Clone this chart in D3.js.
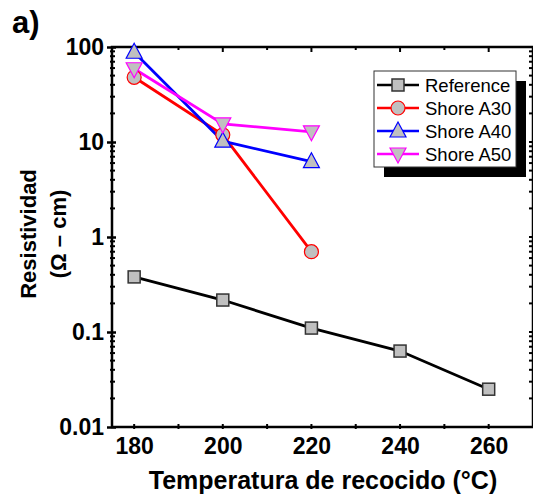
<!DOCTYPE html>
<html><head><meta charset="utf-8">
<script src="https://cdn.jsdelivr.net/npm/d3@7"></script>
<style>body{margin:0;background:#fff;}svg{display:block;}</style>
</head><body>
<svg id="c" width="533" height="497"></svg>
<script>
const temps = [180, 200, 220, 240, 260];
const refVals = [0.38, 0.217, 0.11, 0.063, 0.025];
const a30Vals = [48, 11.9, 0.70];
const a40Vals = [88, 10.2, 6.2];
const a50Vals = [59, 15.5, 12.8];
const xTicks = [180, 200, 220, 240, 260];
const yTicks = [100, 10, 1, 0.1, 0.01];
const yTickLabels = ["100", "10", "1", "0.1", "0.01"];
const seriesNames = ["Reference", "Shore A30", "Shore A40", "Shore A50"];
const seriesColors = ["#000000", "#ff0000", "#0000ff", "#ff00ff"];
const seriesMarkers = ["square", "circle", "triangle", "triangleDown"];

const svg = d3.select("#c");
const L = 112, R = 533, T = 47, B = 427;
const x = d3.scaleLinear().domain([175, 270]).range([L, R]);
const y = d3.scaleLog().domain([0.01, 100]).range([B, T]);
const font = "'Liberation Sans', Arial, sans-serif";

// minor y ticks
const minor = [];
[0.01, 0.1, 1, 10].forEach(d => { for (let k = 2; k <= 9; k++) minor.push(d * k); });

const g = svg.append("g");
// frame
g.append("rect").attr("x", L).attr("y", T).attr("width", R - L).attr("height", B - T)
  .attr("fill", "none").attr("stroke", "#000").attr("stroke-width", 2.5);

// axes
const yAxis = d3.axisLeft(y).tickValues(yTicks).tickFormat((d, i) => yTickLabels[i]).tickSize(5).tickPadding(3);
const gy = g.append("g").attr("transform", `translate(${L},0)`).call(yAxis);
gy.select(".domain").remove();
gy.selectAll(".tick line").attr("stroke-width", 2.5).attr("x2", -5).attr("x1", 4);
gy.selectAll("text").attr("font-family", font).attr("font-weight", "bold").attr("font-size", 23).attr("fill", "#000");
g.append("g").selectAll("line").data(minor).join("line")
  .attr("x1", L - 2).attr("x2", L + 3).attr("y1", d => y(d)).attr("y2", d => y(d))
  .attr("stroke", "#000").attr("stroke-width", 2);
// right side minor ticks
g.append("g").selectAll("line").data(minor.concat(yTicks)).join("line")
  .attr("x1", R - 4).attr("x2", R).attr("y1", d => y(d)).attr("y2", d => y(d))
  .attr("stroke", "#000").attr("stroke-width", 2);

const xAxis = d3.axisBottom(x).tickValues(xTicks).tickSize(0).tickPadding(11);
const gx = g.append("g").attr("transform", `translate(0,${B})`).call(xAxis);
gx.select(".domain").remove();
gx.selectAll("text").attr("font-family", font).attr("font-weight", "bold").attr("font-size", 23).attr("fill", "#000");
const xMinor = d3.range(180, 270, 10);
g.append("g").selectAll("line").data(xMinor).join("line")
  .attr("x1", d => x(d)).attr("x2", d => x(d)).attr("y1", B - 3).attr("y2", B + 2)
  .attr("stroke", "#000").attr("stroke-width", 2);
g.append("g").selectAll("line").data(xMinor).join("line")
  .attr("x1", d => x(d)).attr("x2", d => x(d)).attr("y1", T).attr("y2", d => T + ((d % 20 === 0) ? 5 : 3))
  .attr("stroke", "#000").attr("stroke-width", 2);

// titles
svg.append("text").attr("x", 323).attr("y", 489).attr("text-anchor", "middle")
  .attr("font-family", font).attr("font-weight", "bold").attr("font-size", 25).text("Temperatura de recocido (°C)");
svg.append("text").attr("transform", "translate(36,234) rotate(-90)").attr("text-anchor", "middle")
  .attr("font-family", font).attr("font-weight", "bold").attr("font-size", 22).text("Resistividad");
svg.append("text").attr("transform", "translate(66,234) rotate(-90)").attr("text-anchor", "middle")
  .attr("font-family", font).attr("font-weight", "bold").attr("font-size", 22).text("(Ω – cm)");
svg.append("text").attr("x", 12).attr("y", 33)
  .attr("font-family", font).attr("font-weight", "bold").attr("font-size", 31).text("a)");

// markers
function drawMarker(sel, type, color) {
  if (type === "square") {
    sel.append("rect").attr("x", -6).attr("y", -6).attr("width", 12).attr("height", 12)
      .attr("fill", "#c0c0c0").attr("stroke", "#333").attr("stroke-width", 1.5);
  } else if (type === "circle") {
    sel.append("circle").attr("r", 7).attr("fill", "#c0c0c0").attr("stroke", color).attr("stroke-width", 1.2);
  } else if (type === "triangle") {
    sel.append("path").attr("d", "M0,-9L8,6L-8,6Z").attr("fill", "#c0c0c0").attr("stroke", color).attr("stroke-width", 1.2);
  } else {
    sel.append("path").attr("d", "M0,9L8,-6L-8,-6Z").attr("fill", "#c0c0c0").attr("stroke", color).attr("stroke-width", 1.2);
  }
}

const allVals = [refVals, a30Vals, a40Vals, a50Vals];
const line = d3.line().x(d => x(d[0])).y(d => y(d[1]));
const plot = svg.append("g");
allVals.forEach((vals, i) => {
  const pts = vals.map((v, j) => [temps[j], v]);
  plot.append("path").attr("d", line(pts)).attr("fill", "none")
    .attr("stroke", seriesColors[i]).attr("stroke-width", 2.8);
});
allVals.forEach((vals, i) => {
  vals.forEach((v, j) => {
    const m = plot.append("g").attr("transform", `translate(${x(temps[j])},${y(v)})`);
    drawMarker(m, seriesMarkers[i], seriesColors[i]);
  });
});

// legend
const lg = svg.append("g");
lg.append("rect").attr("x", 384).attr("y", 81).attr("width", 142).attr("height", 96).attr("fill", "#000");
lg.append("rect").attr("x", 374).attr("y", 71).attr("width", 142).attr("height", 96)
  .attr("fill", "#fff").attr("stroke", "#333").attr("stroke-width", 1);
seriesNames.forEach((name, i) => {
  const yy = 85 + i * 23;
  lg.append("line").attr("x1", 377).attr("x2", 419).attr("y1", yy).attr("y2", yy)
    .attr("stroke", seriesColors[i]).attr("stroke-width", 2.5);
  const m = lg.append("g").attr("transform", `translate(398,${yy})`);
  drawMarker(m, seriesMarkers[i], seriesColors[i]);
  lg.append("text").attr("x", 425).attr("y", yy + 6.5).attr("font-family", font)
    .attr("font-size", 18.5).text(name);
});
</script>
</body></html>
